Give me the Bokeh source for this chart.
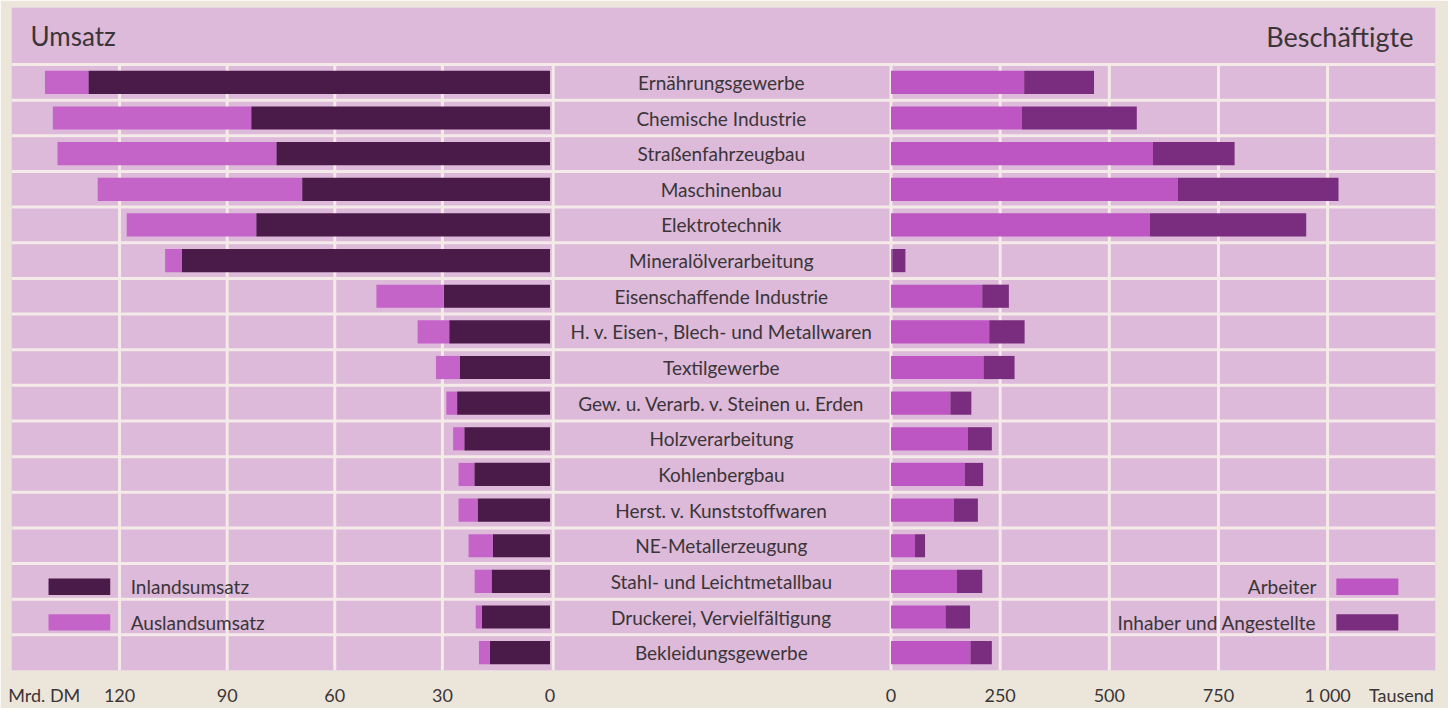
from bokeh.plotting import figure
from bokeh.models import Range1d, Span, FixedTicker
from bokeh.embed import file_html
from bokeh.resources import INLINE
from bokeh.core.properties import value

# ---------------- data ----------------
categories = [
    "Ernährungsgewerbe",
    "Chemische Industrie",
    "Straßenfahrzeugbau",
    "Maschinenbau",
    "Elektrotechnik",
    "Mineralölverarbeitung",
    "Eisenschaffende Industrie",
    "H. v. Eisen-, Blech- und Metallwaren",
    "Textilgewerbe",
    "Gew. u. Verarb. v. Steinen u. Erden",
    "Holzverarbeitung",
    "Kohlenbergbau",
    "Herst. v. Kunststoffwaren",
    "NE-Metallerzeugung",
    "Stahl- und Leichtmetallbau",
    "Druckerei, Vervielfältigung",
    "Bekleidungsgewerbe",
]
# Umsatz, Mrd. DM
inlandsumsatz = [128.7, 83.3, 76.3, 69.1, 81.9, 102.7, 29.6, 28.1, 25.1,
                 25.9, 23.9, 21.1, 20.2, 15.9, 16.3, 19.0, 16.8]
auslandsumsatz = [12.1, 55.3, 61.0, 57.0, 36.1, 4.6, 18.8, 8.8, 6.7,
                  3.0, 3.1, 4.4, 5.3, 6.8, 4.7, 1.7, 3.0]
# Beschäftigte, Tausend
arbeiter = [305, 300, 600, 657, 593, 3, 209, 225, 212,
            136, 176, 169, 144, 55, 151, 125, 182]
angestellte = [160, 263, 187, 368, 358, 30, 61, 81, 71,
               48, 55, 42, 55, 23, 58, 56, 49]

umsatz_ticks = [0, 30, 60, 90, 120]
umsatz_tick_labels = ["0", "30", "60", "90", "120"]
besch_ticks = [0, 250, 500, 750, 1000]
besch_tick_labels = ["0", "250", "500", "750", "1 000"]
umsatz_unit = "Mrd. DM"
besch_unit = "Tausend"
legend_left = ["Inlandsumsatz", "Auslandsumsatz"]
legend_right = ["Arbeiter", "Inhaber und Angestellte"]

# ---------------- style / geometry ----------------
PAGE = "#ece6da"
PANEL = "#ddb9da"
GRID = "#f4ebe8"
DARK = "#4a1b49"
PINK = "#c463c8"
ARB = "#bd56c2"
ANG = "#7a2d7e"
TXT = "#3a3537"
FONT = "Lato"

W, H = 1448, 708
BL, BR, BT, BB = 11, 13, 7, 37
FRAME_L, FRAME_R = BL, W - BR          # pixel positions of frame edges
ZERO_L = 549.5                          # pixel of Umsatz = 0
ZERO_R = 890.5                          # pixel of Beschäftigte = 0
PXU_L = 3.587                           # px per Mrd. DM
PXU_R = 0.4366                          # px per Tausend
SEP_L = 552.7                           # separator left of label column
MID = (SEP_L + ZERO_R - 1.5) / 2        # centre of label column


def px_to_ums(px):
    return (ZERO_L - px) / PXU_L


def px_to_bes(px):
    return (px - ZERO_R) / PXU_R


def bes_to_ums(v):
    return round(px_to_ums(ZERO_R + v * PXU_R), 6)


n = len(categories)
ys = list(range(n))
umsatz_total = [a + b for a, b in zip(inlandsumsatz, auslandsumsatz)]
besch_total = [a + b for a, b in zip(arbeiter, angestellte)]

TITLE_ROWS = 1.6
BAR_H = 0.65
LEG_H = 0.46

p = figure(width=W, height=H,
           x_range=Range1d(start=px_to_ums(FRAME_L), end=px_to_ums(FRAME_R)),
           y_range=Range1d(start=n - 0.5, end=-0.5 - TITLE_ROWS),
           output_backend="svg", toolbar_location=None,
           min_border_left=BL, min_border_right=BR, min_border_top=BT,
           min_border_bottom=BB, background_fill_color=PANEL,
           border_fill_color=PAGE, outline_line_color=None,
           y_axis_location=None)
p.extra_x_ranges = {"bes": Range1d(start=px_to_bes(FRAME_L),
                                   end=px_to_bes(FRAME_R))}
p.grid.visible = False

# horizontal row separators
for k in range(n):
    p.add_layout(Span(location=k - 0.5, dimension="width",
                      line_color=GRID, line_width=3, level="underlay"))

# vertical grid lines (rows only)
p.segment(x0=umsatz_ticks[1:], y0=-0.5, x1=umsatz_ticks[1:], y1=n - 0.5,
          line_color=GRID, line_width=3)
p.segment(x0=[px_to_ums(SEP_L)], y0=-0.5, x1=[px_to_ums(SEP_L)], y1=n - 0.5,
          line_color=GRID, line_width=3)
p.segment(x0=besch_ticks, y0=-0.5, x1=besch_ticks, y1=n - 0.5,
          line_color=GRID, line_width=3, x_range_name="bes")

# ---------------- Umsatz bars ----------------
p.hbar(y=ys, left=0, right=inlandsumsatz, height=BAR_H,
       fill_color=DARK, line_color=None)
p.hbar(y=ys, left=inlandsumsatz, right=umsatz_total, height=BAR_H,
       fill_color=PINK, line_color=None)

# ---------------- Beschäftigte bars ----------------
p.hbar(y=ys, left=0, right=arbeiter, height=BAR_H,
       fill_color=ARB, line_color=None, x_range_name="bes")
p.hbar(y=ys, left=arbeiter, right=besch_total, height=BAR_H,
       fill_color=ANG, line_color=None, x_range_name="bes")

# ---------------- category labels ----------------
p.text(x=[px_to_ums(MID)] * n, y=ys, text=categories, text_align="center",
       text_baseline="middle", text_font=value(FONT),
       text_font_size="19px", text_color=TXT)

# ---------------- titles ----------------
p.text(x=[144.8], y=[-1.3], text=["Umsatz"], text_align="left",
       text_baseline="middle", text_font=value(FONT),
       text_font_size="26px", text_color=TXT)
p.text(x=[1196.7], y=[-1.3], text=["Beschäftigte"], text_align="right",
       text_baseline="middle", text_font=value(FONT),
       text_font_size="27px", text_color=TXT, x_range_name="bes")

# ---------------- legends ----------------
p.hbar(y=[14.15, 15.15], left=[139.8, 139.8], right=[122.6, 122.6],
       height=LEG_H, fill_color=[DARK, PINK], line_color=None)
p.text(x=[116.9, 116.9], y=[14.15, 15.15], text=legend_left,
       text_align="left", text_baseline="middle", text_font=value(FONT),
       text_font_size="19px", text_color=TXT)
p.hbar(y=[14.15, 15.15], left=[1020, 1020], right=[1162, 1162],
       height=LEG_H, fill_color=[ARB, ANG], line_color=None,
       x_range_name="bes")
p.text(x=[974.6, 974.6], y=[14.15, 15.15], text=legend_right,
       text_align="right", text_baseline="middle", text_font=value(FONT),
       text_font_size="19px", text_color=TXT, x_range_name="bes")

# ---------------- bottom axis (both scales) ----------------
tick_pos = []
tick_lab = {}
for t, lab in zip(umsatz_ticks, umsatz_tick_labels):
    tick_pos.append(t)
    tick_lab[t] = lab
tick_pos.append(141)
tick_lab[141] = umsatz_unit
for t, lab in zip(besch_ticks, besch_tick_labels):
    u = bes_to_ums(t)
    tick_pos.append(u)
    tick_lab[u] = lab
u = bes_to_ums(1169)
tick_pos.append(u)
tick_lab[u] = besch_unit

ax = p.xaxis[0]
ax.ticker = FixedTicker(ticks=tick_pos)
ax.major_label_overrides = tick_lab
ax.axis_line_color = None
ax.major_tick_line_color = None
ax.minor_tick_line_color = None
ax.major_tick_out = 0
ax.major_tick_in = 0
ax.major_label_standoff = 13
ax.major_label_text_font = FONT
ax.major_label_text_font_size = "18px"
ax.major_label_text_color = TXT

html = file_html(p, INLINE, title="Umsatz und Beschäftigte")
html = html.replace("<body>", '<body style="background-color:%s;">' % PAGE, 1)
open("out.html", "w").write(html)
